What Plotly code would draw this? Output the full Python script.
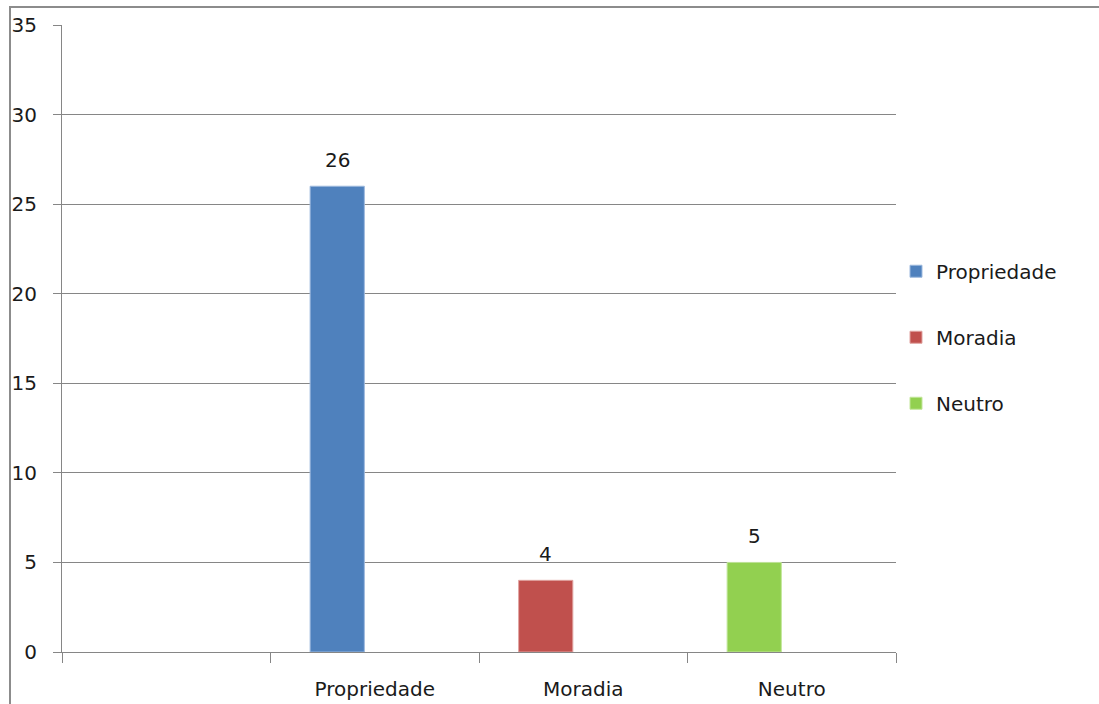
import plotly.graph_objects as go

# ---- data ----
axis_categories = ["", "Propriedade", "Moradia", "Neutro"]
series_names = ["Propriedade", "Moradia", "Neutro"]
series_values = [26, 4, 5]
series_colors = ["#4F81BD", "#C0504D", "#92D050"]
series_edges = ["#9DB9DE", "#E0A3A1", "#C2E69A"]
y_ticks = [0, 5, 10, 15, 20, 25, 30, 35]

# ---- style ----
FONT = "DejaVu Sans"
FSIZE = 20
GRID = "#868686"
TXT = "#1a1a1a"
BAR_WIDTH = 0.26
BAR_OFFSET = -0.31

fig = go.Figure()
annotations = []
for i, (name, val) in enumerate(zip(series_names, series_values)):
    xpos = axis_categories.index(name)
    fig.add_trace(go.Bar(
        x=[xpos], y=[val], name=name,
        width=BAR_WIDTH, offset=BAR_OFFSET,
        marker=dict(color=series_colors[i], line=dict(color=series_edges[i], width=1)),
        legendgroup=name,
        hoverinfo="skip",
    ))
    annotations.append(dict(
        x=xpos + BAR_OFFSET + BAR_WIDTH / 2, y=val, xref="x", yref="y",
        text=str(val), showarrow=False, yshift=26,
        font=dict(family=FONT, size=FSIZE, color=TXT),
    ))

fig.update_layout(
    width=1099, height=704,
    margin=dict(l=62, r=203, t=25, b=52, autoexpand=False),
    paper_bgcolor="white", plot_bgcolor="white",
    barmode="overlay",
    font=dict(family=FONT, size=FSIZE, color=TXT),
    showlegend=True,
    legend=dict(
        x=1.0, xanchor="left", y=0.502, yanchor="middle",
        tracegroupgap=37, font=dict(family=FONT, size=FSIZE, color=TXT),
        bgcolor="rgba(0,0,0,0)",
    ),
    annotations=annotations,
    shapes=[dict(
        type="rect", xref="paper", yref="paper",
        x0=(10 - 62) / 834, x1=2, y0=-1, y1=1 + (25 - 7) / 627,
        line=dict(color="#8c8c8c", width=2), layer="above",
    )],
    xaxis=dict(
        range=[-0.5, len(axis_categories) - 0.5],
        tickmode="array",
        tickvals=list(range(len(axis_categories))),
        ticktext=axis_categories,
        ticks="", showgrid=False, zeroline=False,
        showline=True, linecolor=GRID, linewidth=1,
        ticklabelstandoff=19,
        automargin=False,
        minor=dict(
            tickmode="array",
            tickvals=[k - 0.5 for k in range(len(axis_categories) + 1)],
            ticks="outside", ticklen=10, tickcolor=GRID, tickwidth=1,
            showgrid=False,
        ),
        fixedrange=True,
    ),
    yaxis=dict(
        range=[0, 35],
        tickmode="array", tickvals=y_ticks,
        ticks="outside", ticklen=8, tickcolor=GRID, tickwidth=1,
        showgrid=True, gridcolor=GRID, gridwidth=1,
        showline=True, linecolor=GRID, linewidth=1,
        zeroline=False,
        ticklabelstandoff=12,
        automargin=False,
        fixedrange=True,
    ),
)

fig.write_html("out.html")
